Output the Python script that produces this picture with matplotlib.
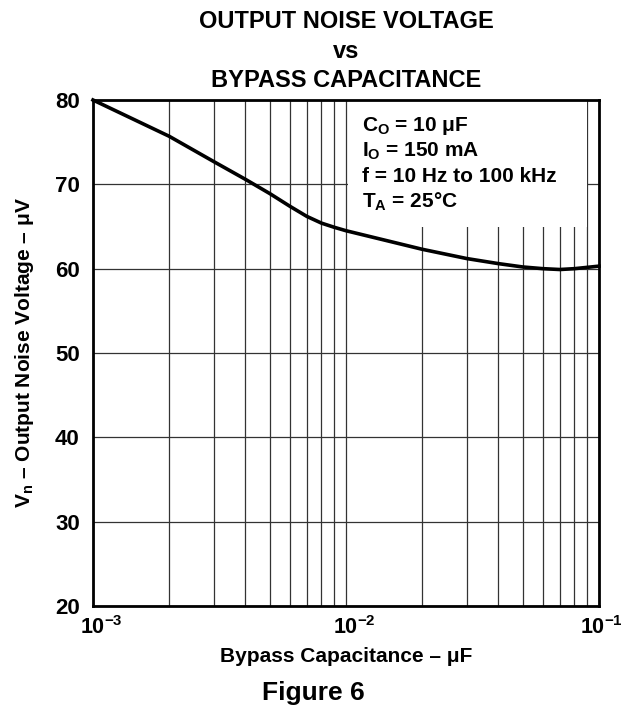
import matplotlib
matplotlib.use('Agg')
import matplotlib.pyplot as plt
from matplotlib.ticker import LogLocator, FixedLocator, NullFormatter
from matplotlib.patches import Rectangle
from matplotlib.transforms import ScaledTranslation

plt.rcParams['font.family'] = ['Liberation Sans', 'DejaVu Sans']
plt.rcParams['font.weight'] = 'bold'
plt.rcParams['mathtext.fontset'] = 'custom'
plt.rcParams['mathtext.rm'] = 'Liberation Sans:bold'
plt.rcParams['mathtext.it'] = 'Liberation Sans:bold'
plt.rcParams['mathtext.bf'] = 'Liberation Sans:bold'

# curve (uF, uV)
cap = [0.001, 0.002, 0.003, 0.004, 0.005, 0.006, 0.007, 0.008, 0.009, 0.01,
       0.02, 0.03, 0.04, 0.05, 0.06, 0.07, 0.08, 0.1]
noise = [80.0, 75.7, 72.7, 70.6, 68.9, 67.4, 66.2, 65.4, 64.9, 64.5,
         62.3, 61.2, 60.6, 60.2, 60.0, 59.9, 60.0, 60.3]
y_ticks = [20, 30, 40, 50, 60, 70, 80]
x_ticks = [0.001, 0.01, 0.1]
x_tick_labels = [r'10$^{-3}$', r'10$^{-2}$', r'10$^{-1}$']
conditions = [r'C$_{\mathregular{O}}$ = 10 μF',
              r'I$_{\mathregular{O}}$ = 150 mA',
              'f = 10 Hz to 100 kHz',
              r'T$_{\mathregular{A}}$ = 25°C']
title_lines = ['OUTPUT NOISE VOLTAGE', 'vs', 'BYPASS CAPACITANCE']

W, H = 626, 714
L, R, T, B = 93, 599, 100, 606   # axes box in pixels

fig = plt.figure(figsize=(W / 100, H / 100), dpi=100)
ax = fig.add_axes([L / W, 1 - B / H, (R - L) / W, (B - T) / H])
aw, ah = R - L, B - T

ax.set_xscale('log')
ax.set_xlim(0.001, 0.1)
ax.set_ylim(20, 80)

ax.xaxis.set_major_locator(FixedLocator(x_ticks))
ax.set_xticklabels(x_tick_labels)
ax.xaxis.set_minor_locator(LogLocator(base=10, subs=range(2, 10)))
ax.xaxis.set_minor_formatter(NullFormatter())
ax.set_yticks(y_ticks)
ax.set_axisbelow(True)

ax.grid(True, which='both', axis='x', color='#333333', linewidth=0.9)
ax.grid(True, which='major', axis='y', color='#333333', linewidth=0.9)
ax.tick_params(which='both', length=0, labelsize=16)
ax.tick_params(axis='y', pad=9.5)
ax.tick_params(axis='x', pad=7, labelsize=15.5)
# exponent hangs to the right of the "10", last label kept inside the figure
for lab, dx in zip(ax.get_xticklabels(), [0.08, 0.08, 0.02]):
    lab.set_transform(lab.get_transform() + ScaledTranslation(dx, 0, fig.dpi_scale_trans))
for s in ax.spines.values():
    s.set_linewidth(2)

ax.plot(cap, noise, color='black', linewidth=2.6, zorder=3, clip_on=False)

# white box behind the conditions text
ax.add_patch(Rectangle(((348 - L) / aw, (B - 227) / ah), (587 - 348) / aw, (227 - T) / ah,
                       transform=ax.transAxes, facecolor='white', edgecolor='none', zorder=1))
for i, line in enumerate(conditions):
    ax.text((362 - L) / aw, (B - 131 - 25.7 * i) / ah, line, transform=ax.transAxes,
            fontsize=15, fontweight='bold', va='baseline', ha='left', zorder=4)

ax.set_xlabel('Bypass Capacitance – μF', fontsize=15, fontweight='bold', va='baseline')
ax.xaxis.set_label_coords(0.5, (B - 662) / ah)
ax.set_ylabel(r'V$_{\mathregular{n}}$ – Output Noise Voltage – μV', fontsize=15,
              fontweight='bold', va='center', ha='center')
ax.yaxis.set_label_coords((25 - L) / aw, 0.5)

cx = (L + R) / 2 / W
for i, line in enumerate(title_lines):
    fig.text(cx, 1 - (28 + 29.5 * i) / H, line, ha='center', va='baseline',
             fontsize=17, fontweight='bold')
fig.text(0.5, 1 - 700 / H, 'Figure 6', ha='center', va='baseline', fontsize=19, fontweight='bold')

fig.savefig('out.png', dpi=100)
